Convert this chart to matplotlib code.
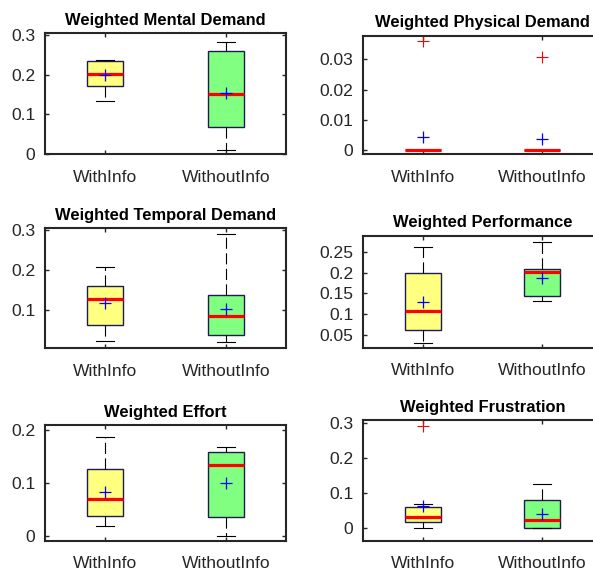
import matplotlib
matplotlib.use('Agg')
import matplotlib.pyplot as plt

plt.rcParams['font.family'] = ['Liberation Sans', 'DejaVu Sans']

groups = ['WithInfo', 'WithoutInfo']
titles = ['Weighted Mental Demand', 'Weighted Physical Demand',
          'Weighted Temporal Demand', 'Weighted Performance',
          'Weighted Effort', 'Weighted Frustration']

# per panel: [WithInfo, WithoutInfo]
q1 = [[0.172, 0.067], [0.0, 0.0], [0.062, 0.036], [0.062, 0.143], [0.0377, 0.0358], [0.0146, 0.0]]
med = [[0.202, 0.152], [0.0, 0.0], [0.128, 0.085], [0.109, 0.201], [0.0704, 0.1346], [0.029, 0.0204]]
q3 = [[0.235, 0.260], [0.0, 0.0], [0.159, 0.138], [0.199, 0.210], [0.1264, 0.158], [0.058, 0.0787]]
whislo = [[0.133, 0.009], [0.0, 0.0], [0.023, 0.020], [0.0315, 0.131], [0.0183, 0.0006], [0.0, 0.0]]
whishi = [[0.237, 0.284], [0.0, 0.0], [0.208, 0.290], [0.2615, 0.275], [0.187, 0.168], [0.068, 0.1265]]
means = [[0.199, 0.155], [0.0042, 0.0035], [0.117, 0.102], [0.129, 0.188], [0.0836, 0.1006], [0.063, 0.039]]
outliers = [[[], []], [[0.036], [0.0307]], [[], []], [[], []], [[], []], [[0.294], []]]

yticks = [[0, 0.1, 0.2, 0.3], [0, 0.01, 0.02, 0.03], [0.1, 0.2, 0.3],
          [0.05, 0.1, 0.15, 0.2, 0.25], [0, 0.1, 0.2], [0, 0.1, 0.2, 0.3]]
yticklabels = [['0', '0.1', '0.2', '0.3'], ['0', '0.01', '0.02', '0.03'], ['0.1', '0.2', '0.3'],
               ['0.05', '0.1', '0.15', '0.2', '0.25'], ['0', '0.1', '0.2'], ['0', '0.1', '0.2', '0.3']]
ylims = [(-0.0015, 0.305), (-0.0014, 0.0378), (0.004, 0.304),
         (0.0195, 0.289), (-0.009, 0.2094), (-0.038, 0.31)]

W, H = 593, 574
# axes boxes in pixels: left, top, right, bottom
boxes_px = [(45, 33.3, 286, 154.3), (363, 35.7, 602, 154.3),
            (45, 228.3, 286, 348.3), (363, 235.7, 602, 347.7),
            (45, 425, 286, 540.7), (363, 420, 602, 540.7)]

face_colors = ['#ffff80', '#80ff80']
dark = '#262626'

fig = plt.figure(figsize=(W / 100, H / 100), dpi=100)
fig.patch.set_facecolor('white')

for i in range(6):
    l, t, r, b = boxes_px[i]
    ax = fig.add_axes([l / W, 1 - b / H, (r - l) / W, (b - t) / H])
    stats = []
    for j in range(2):
        stats.append(dict(q1=q1[i][j], med=med[i][j], q3=q3[i][j],
                          whislo=whislo[i][j], whishi=whishi[i][j],
                          mean=means[i][j], fliers=outliers[i][j], label=groups[j]))
    bp = ax.bxp(stats, positions=[1, 2], widths=0.3, capwidths=0.15,
                showmeans=True, meanline=False, patch_artist=True,
                boxprops=dict(edgecolor='#1c1c50', linewidth=1.0),
                medianprops=dict(color='#ff0000', linewidth=2.3, solid_capstyle='butt'),
                whiskerprops=dict(color='black', linewidth=0.8, linestyle=(0, (10, 4))),
                capprops=dict(color='black', linewidth=0.8),
                flierprops=dict(marker='+', markeredgecolor='#ff0000', markersize=8,
                                markeredgewidth=0.8, linestyle='none'),
                meanprops=dict(marker='+', markeredgecolor='#0000ff', markersize=9,
                               markeredgewidth=0.9, linestyle='none'))
    for patch, fc in zip(bp['boxes'], face_colors):
        patch.set_facecolor(fc)
    ax.set_xlim(0.5, 2.5)
    ax.set_ylim(*ylims[i])
    ax.set_xticks([1, 2])
    ax.set_xticklabels(groups)
    ax.set_yticks(yticks[i])
    ax.set_yticklabels(yticklabels[i])
    ax.tick_params(direction='in', top=True, right=True, length=3, width=1.0,
                   colors=dark, labelsize=12.6, labelcolor=dark)
    ax.tick_params(axis='x', pad=11)
    ax.tick_params(axis='y', pad=7)
    for sp in ax.spines.values():
        sp.set_linewidth(1.5)
        sp.set_color(dark)
    ax.set_title(titles[i], fontsize=11.9, fontweight='bold', pad=6, color='black')

fig.savefig('out.png', dpi=100)
